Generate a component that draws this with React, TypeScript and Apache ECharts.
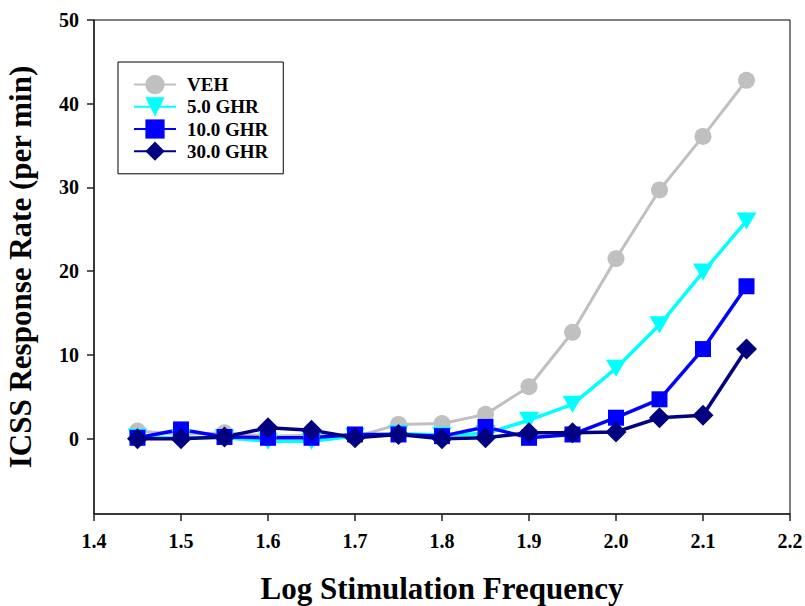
import React, { useEffect, useRef } from "react";
import * as echarts from "echarts";

const freq = [1.45, 1.5, 1.55, 1.6, 1.65, 1.7, 1.75, 1.8, 1.85, 1.9, 1.95, 2.0, 2.05, 2.1, 2.15];
const veh = [0.9, 0.5, 0.7, 0.3, 0.4, 0.2, 1.7, 1.8, 2.9, 6.2, 12.7, 21.5, 29.7, 36.1, 42.8];
const ghr5 = [0.2, 0.1, 0.1, -0.3, -0.3, 0.3, 0.6, 0.4, 0.6, 2.2, 4.1, 8.4, 13.6, 19.9, 26.0];
const ghr10 = [0.1, 1.1, 0.2, 0.1, 0.1, 0.5, 0.5, 0.3, 1.4, 0.1, 0.5, 2.5, 4.7, 10.7, 18.2];
const ghr30 = [0, 0, 0.2, 1.3, 1.0, 0.1, 0.5, 0, 0.1, 0.7, 0.7, 0.8, 2.5, 2.8, 10.7];

const xTicks = [1.4, 1.5, 1.6, 1.7, 1.8, 1.9, 2.0, 2.1, 2.2];
const yTicks = [0, 10, 20, 30, 40, 50];

const FONT = "'Liberation Serif', 'Times New Roman', serif";

const pair = (ys: number[]) => freq.map((x, i) => [x, ys[i]]);

export default function App() {
  const ref = useRef<HTMLDivElement>(null);
  useEffect(() => {
    if (!ref.current) return;
    const chart = echarts.init(ref.current, undefined, { renderer: "svg" });
    const mk = (name: string, ys: number[], color: string, symbol: string, size: any, lw: number) => ({
      name,
      type: "line",
      data: pair(ys),
      symbol,
      symbolSize: size,
      lineStyle: { color, width: lw },
      itemStyle: { color },
      z: 2,
    });
    chart.setOption({
      animation: false,
      backgroundColor: "#fff",
      grid: {
        left: 94,
        right: 15,
        top: 20,
        bottom: 92,
        show: true,
        borderColor: "#000",
        borderWidth: 1,
        containLabel: false,
        outerBoundsMode: "none",
      },
      legend: {
        orient: "vertical",
        left: 118,
        top: 62,
        itemWidth: 42,
        itemHeight: 24,
        itemGap: 3,
        padding: [13, 15, 13, 15],
        borderColor: "#000",
        borderWidth: 1,
        textStyle: { fontFamily: FONT, fontWeight: "bold", fontSize: 19, color: "#000", padding: [0, 0, 0, 6] },
        data: ["VEH", "5.0 GHR", "10.0 GHR", "30.0 GHR"],
      },
      xAxis: {
        type: "value",
        min: 1.4,
        max: 2.2,
        interval: 0.1,
        name: "Log Stimulation Frequency",
        nameLocation: "middle",
        nameGap: 59,
        nameTextStyle: { fontFamily: FONT, fontWeight: "bold", fontSize: 31, color: "#000" },
        axisLine: { onZero: false, lineStyle: { color: "#222", width: 1.5 } },
        axisTick: { show: true, length: 7, lineStyle: { color: "#222", width: 1.5 }, customValues: xTicks },
        axisLabel: {
          margin: 17,
          fontFamily: FONT,
          fontWeight: "bold",
          fontSize: 20,
          color: "#000",
          customValues: xTicks,
          formatter: (v: number) => v.toFixed(1),
        },
        splitLine: { show: false },
      },
      yAxis: {
        type: "value",
        min: -9,
        max: 50,
        name: "ICSS Response Rate (per min)",
        nameLocation: "middle",
        nameGap: 58,
        nameTextStyle: { fontFamily: FONT, fontWeight: "bold", fontSize: 31, color: "#000" },
        axisLine: { onZero: false, lineStyle: { color: "#222", width: 1.5 } },
        axisTick: { show: true, length: 7, lineStyle: { color: "#222", width: 1.5 }, customValues: yTicks },
        axisLabel: {
          margin: 15,
          fontFamily: FONT,
          fontWeight: "bold",
          fontSize: 20,
          color: "#000",
          customValues: yTicks,
        },
        splitLine: { show: false },
      },
      series: [
        mk("VEH", veh, "#C0C0C0", "circle", 17, 3),
        mk("5.0 GHR", ghr5, "#00FFFF", "path://M0,0 L20,0 L10,17 Z", [20, 17], 3.5),
        mk("10.0 GHR", ghr10, "#0000FF", "rect", 16, 3.5),
        mk("30.0 GHR", ghr30, "#000080", "diamond", 21, 3.5),
      ],
    });
    return () => chart.dispose();
  }, []);
  return <div ref={ref} style={{ position: "fixed", left: 0, top: 0, width: 805, height: 606 }} />;
}
